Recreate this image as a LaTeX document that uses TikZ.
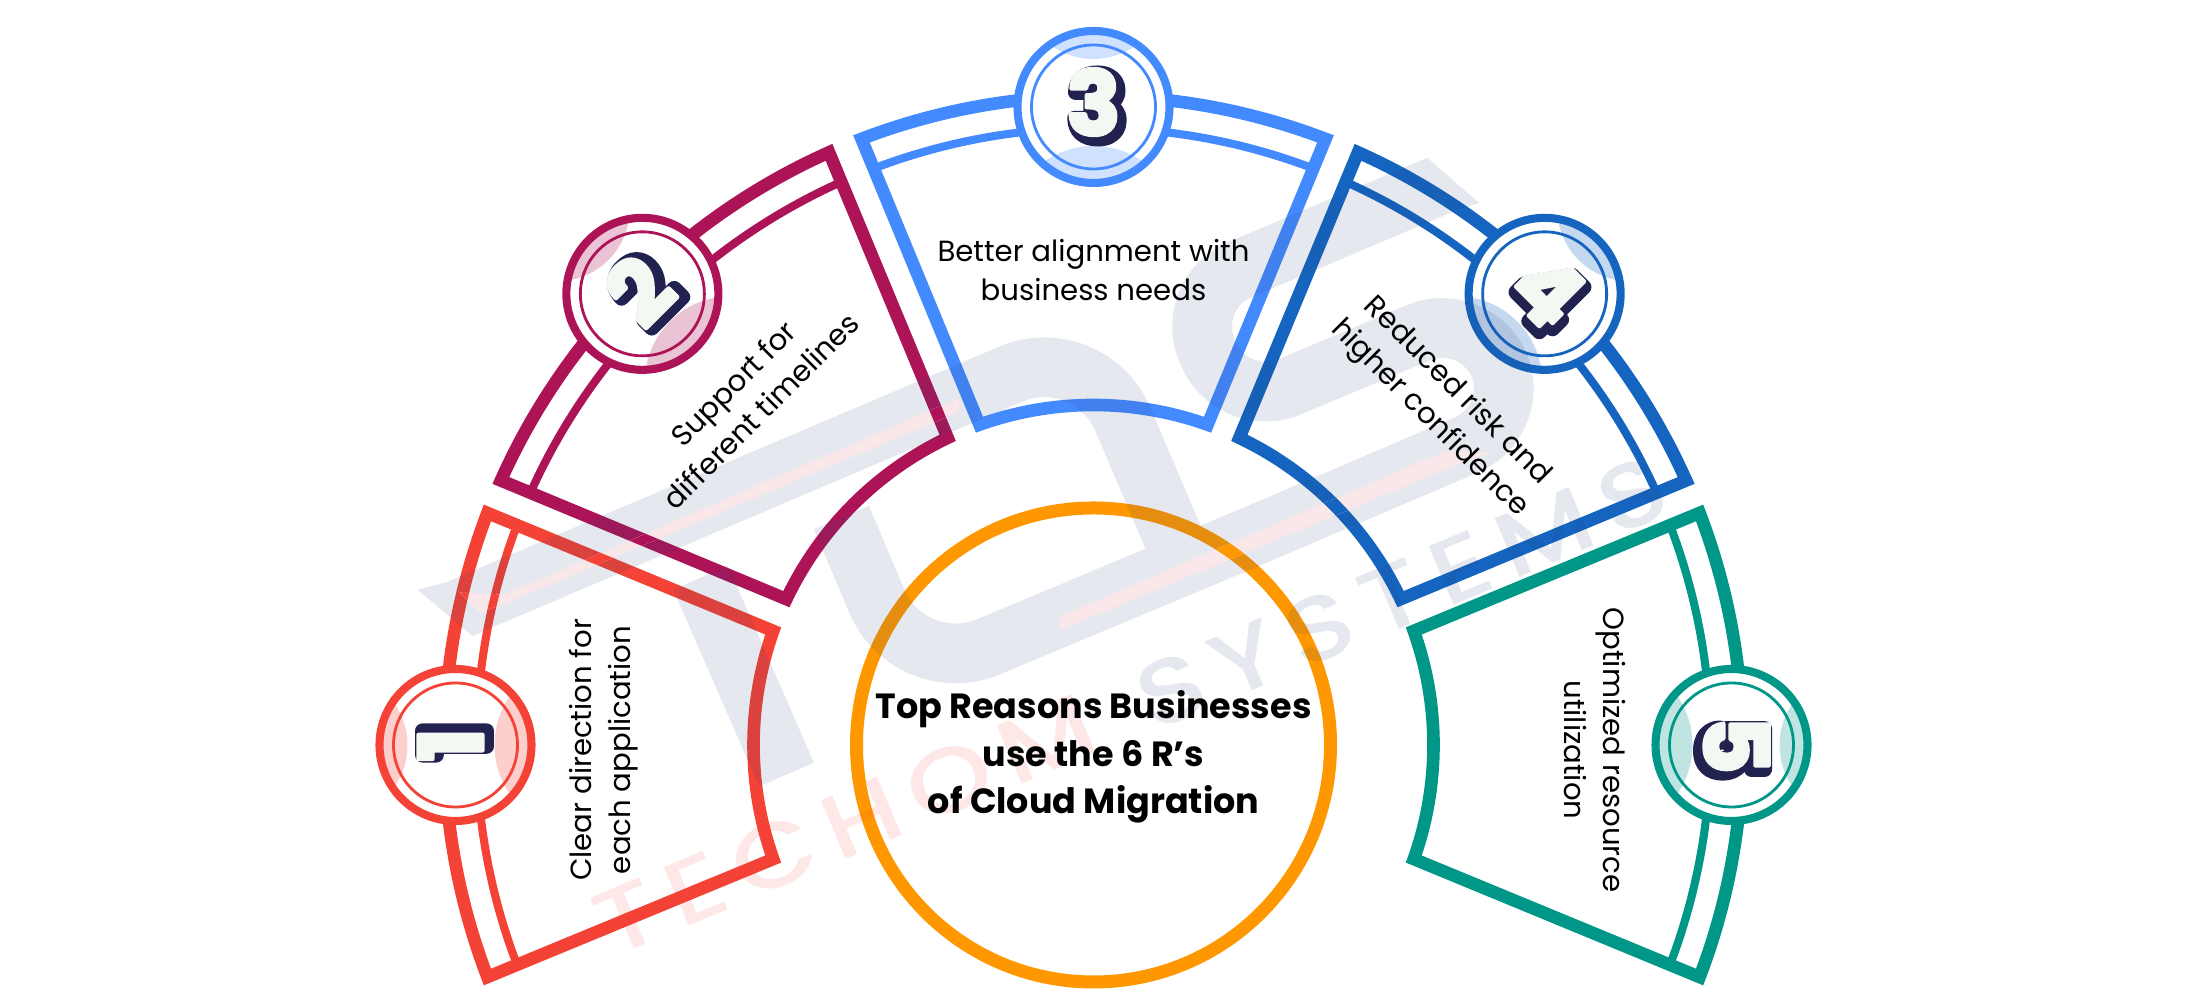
\documentclass[tikz,border=0pt]{standalone}
\usepackage{fontspec}
\setmainfont{Poppins}
\newfontfamily\digitfont{Poppins Bold}
\newfontfamily\markfont[LetterSpace=13]{Poppins Medium}
\usetikzlibrary{calc}

\definecolor{segred}{HTML}{F44336}
\definecolor{segpink}{HTML}{AD1457}
\definecolor{segblue}{HTML}{448AFF}
\definecolor{segnavy}{HTML}{1565C0}
\definecolor{segteal}{HTML}{009688}
\definecolor{hubring}{HTML}{FF9800}
\definecolor{digitdark}{HTML}{222250}
\definecolor{digitface}{HTML}{F3F8F3}
\definecolor{markgrey}{HTML}{283F7C}
\definecolor{markstripe}{HTML}{F9E7E9}

\newcommand{\strokedtext}[2]{\special{pdf:code 2 Tr #1 w 1 j}#2\special{pdf:code 0 Tr 0.4 w 0 j}}

\tikzset{
	band/.style={line width=3.6pt, line join=miter},
	thinband/.style={line width=2.3pt},
	labeltext/.style={align=center, font=\fontsize{8.3}{11.1}\selectfont, text=black},
	digitnode/.style={inner sep=0pt, font=\fontsize{25}{25}\selectfont\digitfont},
	marktext/.style={inner sep=0pt, font=\fontsize{26}{26}\selectfont\markfont, text opacity=0.12},
}

% one outlined segment, #1 = direction, #2 = colour
\newcommand{\segment}[2]{
	\begin{scope}[shift={(10.935, 2.55)}, rotate=#1]
		\draw[band, #2] (-20.95:6.49) arc[start angle=-20.95, end angle=20.95, radius=6.49]
			-- (19.6:3.40) arc[start angle=19.6, end angle=-19.6, radius=3.40] -- cycle;
		\draw[thinband, #2] (-20.87:6.17) arc[start angle=-20.87, end angle=20.87, radius=6.17];
	\end{scope}
}

% numbered badge, #1 = name, #2 = direction, #3 = colour, #4 = digit
\newcommand{\badge}[4]{
	\begin{scope}[shift={(10.935, 2.55)}]
		\coordinate (#1) at (#2:6.38);
	\end{scope}
	\fill[white] (#1) circle (0.76);
	\begin{scope}[shift={(#1)}, rotate=#2]
		\clip (0, 0) circle (0.74);
		\fill[#3, opacity=0.25] (1.21, 0) circle (0.73);
		\fill[#3, opacity=0.25] (-1.25, 0) circle (0.86);
	\end{scope}
	\node[circle, draw=#3, line width=2.3pt, minimum size=1.52cm] (#1ring) at (#1) {};
	\node[circle, draw=#3, line width=0.8pt, minimum size=1.24cm] (#1inner) at (#1) {};
	\begin{scope}[shift={(#1)}, rotate=#2-90]
		\node[digitnode, text=digitdark, rotate=#2-90] (#1shade) at (0.04, 0.01) {\strokedtext{4.2}{#4}};
		\node[digitnode, text=digitface, rotate=#2-90] (#1face) at (0, 0.05) {\strokedtext{1.2}{#4}};
	\end{scope}
}

\begin{document}
\begin{tikzpicture}
	\useasboundingbox (0, 0) rectangle (21.88, 10);

	% segments
	\segment{180}{segred}
	\segment{135}{segpink}
	\segment{90}{segblue}
	\segment{45}{segnavy}
	\segment{0}{segteal}

	% centre ring
	\draw[line width=3.7pt, hubring] (10.935, 2.55) circle (2.37);

	% badges
	\badge{one}{180}{segred}{1}
	\badge{two}{135}{segpink}{2}
	\badge{three}{90}{segblue}{3}
	\badge{four}{45}{segnavy}{4}
	\badge{five}{0}{segteal}{5}

	% logo behind the words
	\begin{scope}[x=0.01cm, y=-0.01cm, yshift=10cm, transparency group, opacity=0.12]
		\fill[markgrey] (449, 582) -- (472, 636) -- (418, 590) -- cycle;
		\fill[markgrey] (1428, 158) -- (1480, 203) -- (1451, 213) -- cycle;
		\draw[markgrey, line width=17pt, rounded corners=0.85cm] (460.5, 609) -- (1090, 341) -- (1185, 564);
		\draw[markgrey, line width=17pt] (701, 578) -- (787, 775);
		\draw[markgrey, line width=17pt, rounded corners=0.62cm] (1439.5, 185.5) -- (1183.5, 294) -- (1233.5, 411) -- (1476, 309) -- (1524, 421) -- (1250, 538);
		\draw[markgrey, line width=17pt, rounded corners=0.85cm] (1250, 538) -- (910.5, 680) -- (842, 518);
	\end{scope}

	% pale stripes in the logo, the lines go back over them
	\begin{scope}[x=0.01cm, y=-0.01cm, yshift=10cm]
		\fill[markstripe] (460, 593) -- (505, 595) -- (960, 398) -- (960, 412) -- (510, 602) -- (480, 613) -- cycle;
		\fill[markstripe] (1447, 451) -- (1493, 453) -- (1470, 460) -- (1060, 631) -- (1060, 617) -- cycle;
	\end{scope}
	\begin{scope}
		\clip[x=0.01cm, y=-0.01cm, yshift=10cm] (460, 593) -- (505, 595) -- (960, 398) -- (960, 412) -- (510, 602) -- (480, 613) -- cycle
			(1447, 451) -- (1493, 453) -- (1470, 460) -- (1060, 631) -- (1060, 617) -- cycle;
		\segment{180}{segred}
		\segment{135}{segpink}
		\segment{45}{segnavy}
		\draw[line width=3.7pt, hubring] (10.935, 2.55) circle (2.37);
	\end{scope}

	% words behind the labels
	\node[marktext, text=segred, rotate=23, xscale=1.2] (techom) at (8.45, 1.75) {TECHOM};
	\node[marktext, text=markgrey, rotate=23, xscale=1.2] (systems) at (14.02, 4.07) {SYSTEMS};

	% labels
	\node[labeltext, rotate=90] (clear) at (6.04, 2.5) {Clear direction for\\each application};
	\node[labeltext, rotate=45] (support) at (7.47, 6.03) {Support for\\different timelines};
	\node[labeltext] (better) at (10.935, 7.3) {Better alignment with\\business needs};
	\node[labeltext, rotate=-45] (reduced) at (14.43, 5.95) {Reduced risk and\\higher confidence};
	\node[labeltext, rotate=-90] (optimized) at (15.95, 2.5) {Optimized resource\\utilization};

	% title
	\node[align=center, font=\fontsize{9.95}{13.5}\selectfont\bfseries] (title) at (10.935, 2.43) {Top Reasons Businesses\\use the 6 R’s\\of Cloud Migration};
\end{tikzpicture}
\end{document}
